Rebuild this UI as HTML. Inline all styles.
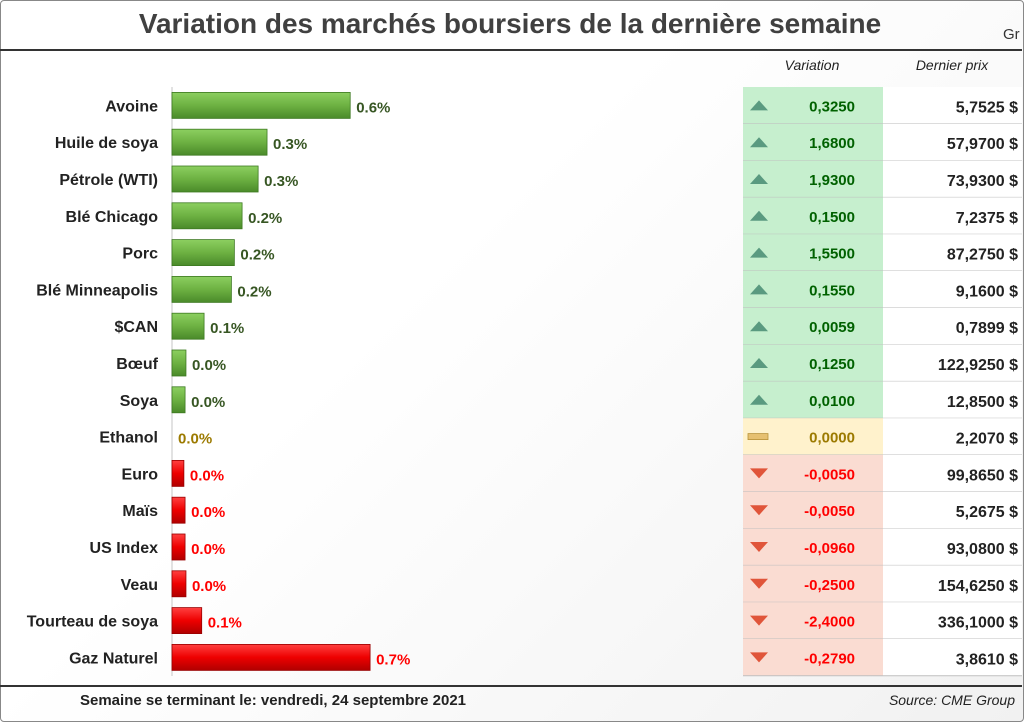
<!DOCTYPE html>
<html><head><meta charset="utf-8"><style>
body{margin:0;width:1024px;height:722px;overflow:hidden;background:#fff;font-family:"Liberation Sans",sans-serif}
#frame{position:absolute;left:0;top:0;width:1022px;height:720px;border:1px solid #888;border-radius:4px;background:linear-gradient(135deg,#fff 40%,#f1f1f1 100%)}
</style></head><body>
<div id="frame"></div>
<svg id="svg" width="1024" height="722" style="position:absolute;left:0;top:0">
<defs>
<linearGradient id="gg" x1="0" y1="0" x2="0" y2="1"><stop offset="0" stop-color="#8ccf60"/><stop offset="0.5" stop-color="#6db142"/><stop offset="1" stop-color="#4a8a2a"/></linearGradient>
<linearGradient id="rg" x1="0" y1="0" x2="0" y2="1"><stop offset="0" stop-color="#ff4040"/><stop offset="0.5" stop-color="#ee0000"/><stop offset="1" stop-color="#b00000"/></linearGradient>
</defs>
<text x="510" y="33" text-anchor="middle" font-size="28" font-weight="bold" fill="#404040">Variation des marchés boursiers de la dernière semaine</text>
<text x="1003" y="39" font-size="15" fill="#333">Gr</text>
<line x1="0" y1="50" x2="1022" y2="50" stroke="#333" stroke-width="2"/>
<text x="812" y="70" text-anchor="middle" font-size="14" font-style="italic" fill="#222">Variation</text>
<text x="952" y="70" text-anchor="middle" font-size="14" font-style="italic" fill="#222">Dernier prix</text>
<line x1="172" y1="87" x2="172" y2="676" stroke="#d9d9d9" stroke-width="1.5"/>
<g id="rows"></g>
<line x1="0" y1="686" x2="1022" y2="686" stroke="#333" stroke-width="2"/>
<text x="80" y="705" font-size="15" font-weight="bold" fill="#222">Semaine se terminant le:  vendredi, 24 septembre 2021</text>
<text x="1015" y="705" text-anchor="end" font-size="14" font-style="italic" fill="#222">Source: CME Group</text>
</svg>
<script>
const categories=["Avoine","Huile de soya","Pétrole (WTI)","Blé Chicago","Porc","Blé Minneapolis","$CAN","Bœuf","Soya","Ethanol","Euro","Maïs","US Index","Veau","Tourteau de soya","Gaz Naturel"];
const pctValues=[0.60,0.32,0.29,0.236,0.21,0.20,0.108,0.047,0.044,0,-0.04,-0.044,-0.044,-0.047,-0.10,-0.667];
const pctLabels=["0.6%","0.3%","0.3%","0.2%","0.2%","0.2%","0.1%","0.0%","0.0%","0.0%","0.0%","0.0%","0.0%","0.0%","0.1%","0.7%"];
const variations=["0,3250","1,6800","1,9300","0,1500","1,5500","0,1550","0,0059","0,1250","0,0100","0,0000","-0,0050","-0,0050","-0,0960","-0,2500","-2,4000","-0,2790"];
const prices=["5,7525 $","57,9700 $","73,9300 $","7,2375 $","87,2750 $","9,1600 $","0,7899 $","122,9250 $","12,8500 $","2,2070 $","99,8650 $","5,2675 $","93,0800 $","154,6250 $","336,1000 $","3,8610 $"];
const NS="http://www.w3.org/2000/svg";
const g=document.getElementById('rows');
const x0=172,scale=297,y0=87,step=36.8;
const xs=v=>Math.abs(v)*scale;
const yc=i=>y0+step*i+step/2;
function mk(t,a,txt){const e=document.createElementNS(NS,t);for(const k in a)e.setAttribute(k,a[k]);if(txt!==undefined)e.textContent=txt;g.appendChild(e);return e;}
categories.forEach((c,i)=>{
 const v=pctValues[i],cy=yc(i),vn=parseFloat(variations[i].replace(',','.'));
 const st=vn>0?'up':(vn<0?'down':'flat');
 const l=mk('text',{x:158,y:cy+6,'text-anchor':'end','font-size':16,'font-weight':'bold',fill:'#222'},c);
 
 const w=xs(v);
 if(w>0){const b=mk('rect',{x:x0,y:cy-13,width:w,height:26,fill:v>0?'url(#gg)':'url(#rg)',stroke:v>0?'#3e7a22':'#990000','stroke-width':0.8});
  }
 const lc=v>0?'#375623':(v<0?'#ff0000':'#9c7a00');
 const vl=mk('text',{x:x0+w+6,y:cy+7,'font-size':15,'font-weight':'bold',fill:lc},pctLabels[i]);
 
 const top=y0+step*i;
 const bg=mk('rect',{x:743,y:top,width:140,height:step,fill:st=='up'?'#c6efce':(st=='down'?'#fadcd2':'#fff2cc')});
 
 const pb=mk('rect',{x:883,y:top,width:139,height:step,fill:'#fff'});
 
 const ln=mk('line',{x1:743,y1:top+step,x2:1022,y2:top+step,stroke:'#bfbfbf','stroke-width':1});
 
 let ic;
 if(st=='up')ic=mk('polygon',{points:`750,${cy+5} 768,${cy+5} 759,${cy-5}`,fill:'#5a9a80'});
 else if(st=='down')ic=mk('polygon',{points:`750,${cy-5} 768,${cy-5} 759,${cy+5}`,fill:'#e0553a'});
 else ic=mk('rect',{x:748,y:cy-3,width:20,height:6,fill:'#e6c070',stroke:'#b8923a','stroke-width':0.8});
 
 const vt=mk('text',{x:855,y:cy+6,'text-anchor':'end','font-size':15,'font-weight':'bold',fill:st=='up'?'#006100':(st=='down'?'#ff0000':'#9c7a00')},variations[i]);
 
 const pt=mk('text',{x:1018,y:cy+7,'text-anchor':'end','font-size':16,'font-weight':'bold',fill:'#222'},prices[i]);
 
});
</script>
</body></html>
